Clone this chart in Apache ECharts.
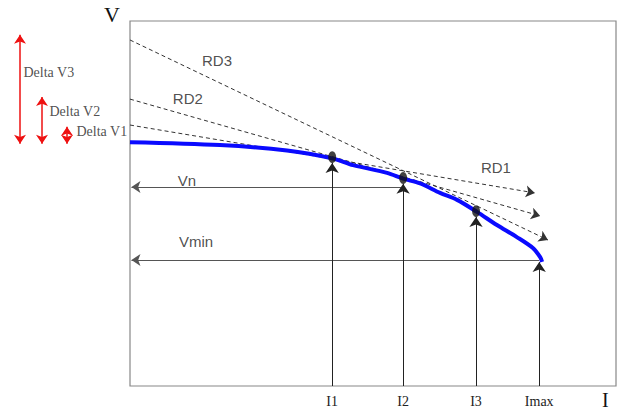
<!DOCTYPE html>
<html>
<head>
<meta charset="utf-8">
<script src="https://cdn.jsdelivr.net/npm/echarts@6/dist/echarts.min.js"></script>
<style>
  html, body { margin: 0; padding: 0; background: #fff; }
  #chart { width: 628px; height: 410px; }
</style>
</head>
<body>
<div id="chart"></div>
<script>
// V-I curve (arbitrary units, both axes 0..100)
const curveI = [0, 18.5, 32.3, 41.8, 45.9, 52.9, 56.2, 59.7, 63.8, 67.3, 71.4, 75.5, 79.6, 82.9, 84.4, 84.8];
const curveV = [66.8, 66.0, 64.5, 62.3, 60.5, 58.4, 56.8, 55.5, 52.9, 51.0, 47.7, 44.1, 40.8, 37.8, 35.3, 34.0];

// operating points on the curve
const tickNames = ['I1', 'I2', 'I3', 'Imax'];
const tickI = [41.6, 56.2, 71.2, 84.2];
const pointV = [62.7, 57.0, 47.9, 34.0];
const hasDot = [true, true, true, false];

// dashed load lines
const rdNames = ['RD1', 'RD2', 'RD3'];
const rdStartV = [71.5, 78.6, 94.8];
const rdEndI = [83.3, 84.4, 86.0];
const rdEndV = [52.9, 46.6, 40.0];
const rdLabelI = [75.3, 11.9, 17.9];
const rdLabelV = [60.0, 78.9, 89.3];

// voltage levels
const levelNames = ['Vn', 'Vmin'];
const levelV = [54.5, 34.5];
const levelEndI = [56.2, 84.2];
const levelLabelI = [11.7, 13.6];
const levelLabelV = [56.4, 39.7];

// delta V arrows on the left (x in left panel units 0..130)
const deltaNames = ['Delta V1', 'Delta V2', 'Delta V3'];
const deltaX = [67, 42, 20];
const deltaTop = [71.0, 79.2, 96.2];
const deltaBottom = [66.4, 66.4, 66.4];
const deltaLabelX = [76, 49, 23];
const deltaLabelV = [69.6, 75.1, 85.8];

const chart = echarts.init(document.getElementById('chart'), null, { renderer: 'svg' });

const sans = 'Liberation Sans, Arial, sans-serif';
const serif = 'Liberation Serif, Times New Roman, serif';

const option = {
    animation: false,
    grid: [
        { left: 130, top: 21, width: 486, height: 365, show: true, borderColor: '#888', borderWidth: 1.2, outerBoundsMode: 'none' },
        { left: 0, top: 21, width: 130, height: 365, show: false, outerBoundsMode: 'none' }
    ],
    xAxis: [
        {
            type: 'value', min: 0, max: 100,
            axisLine: { show: false }, axisTick: { show: false }, splitLine: { show: false },
            axisLabel: {
                customValues: tickI,
                formatter: (v) => tickNames[tickI.indexOf(v)],
                margin: 8, color: '#222', fontSize: 14, fontFamily: serif
            },
            name: 'I', nameLocation: 'end', nameGap: -14,
            nameTextStyle: { fontSize: 20, fontFamily: serif, color: '#111', verticalAlign: 'top', padding: [4, 0, 0, 0] }
        },
        { gridIndex: 1, type: 'value', min: 0, max: 130, show: false }
    ],
    yAxis: [
        {
            type: 'value', min: 0, max: 100,
            axisLine: { show: false }, axisTick: { show: false }, splitLine: { show: false },
            axisLabel: { show: false },
            name: 'V', nameLocation: 'end', nameGap: -4,
            nameTextStyle: { fontSize: 22, fontFamily: serif, color: '#111', align: 'right', padding: [0, 10, 0, 0] }
        },
        { gridIndex: 1, type: 'value', min: 0, max: 100, show: false }
    ],
    series: [
        {
            // dashed RD lines
            type: 'lines', coordinateSystem: 'cartesian2d',
            symbol: ['none', 'arrow'], symbolSize: 9,
            lineStyle: { color: '#333', width: 1, type: [4, 3], opacity: 1 },
            data: rdNames.map((n, i) => ({ coords: [[0, rdStartV[i]], [rdEndI[i], rdEndV[i]]] })),
            z: 2
        },
        {
            // Vn / Vmin horizontal arrows
            type: 'lines', coordinateSystem: 'cartesian2d',
            symbol: ['none', 'arrow'], symbolSize: 9,
            lineStyle: { color: '#555', width: 1, opacity: 1 },
            data: levelNames.map((n, i) => ({ coords: [[levelEndI[i], levelV[i]], [0.3, levelV[i]]] })),
            z: 2
        },
        {
            // vertical arrows up to the operating points
            type: 'lines', coordinateSystem: 'cartesian2d',
            symbol: ['none', 'arrow'], symbolSize: 10,
            lineStyle: { color: '#222', width: 1, opacity: 1 },
            data: tickNames.map((n, i) => ({ coords: [[tickI[i], 0], [tickI[i], hasDot[i] ? pointV[i] - 1.6 : pointV[i]]] })),
            z: 3
        },
        {
            type: 'line', name: 'curve',
            data: curveI.map((x, i) => [x, curveV[i]]),
            showSymbol: false, smooth: 0.3,
            lineStyle: { color: '#0a0aff', width: 4 },
            z: 4
        },
        {
            type: 'scatter', name: 'points',
            data: tickI.map((x, i) => [x, pointV[i]]).filter((p, i) => hasDot[i]),
            symbol: 'circle', symbolSize: [8, 12],
            itemStyle: { color: '#111' },
            z: 5
        },
        {
            // text labels in the plot
            type: 'scatter', symbolSize: 1, itemStyle: { color: 'rgba(0,0,0,0)' },
            label: { show: true, position: 'inside', formatter: (p) => p.name, color: '#222', fontSize: 15, fontFamily: sans },
            data: rdNames.map((n, i) => ({ name: n, value: [rdLabelI[i], rdLabelV[i]] }))
                .concat(levelNames.map((n, i) => ({ name: n, value: [levelLabelI[i], levelLabelV[i]] }))),
            z: 6
        },
        {
            // red delta V arrows
            type: 'lines', coordinateSystem: 'cartesian2d', xAxisIndex: 1, yAxisIndex: 1,
            symbol: ['arrow', 'arrow'], symbolSize: 9,
            lineStyle: { color: '#ee1111', width: 1.5, opacity: 1 },
            data: deltaNames.map((n, i) => ({ coords: [[deltaX[i], deltaBottom[i]], [deltaX[i], deltaTop[i]]] }))
        },
        {
            type: 'scatter', xAxisIndex: 1, yAxisIndex: 1, symbolSize: 1, itemStyle: { color: 'rgba(0,0,0,0)' },
            label: { show: true, position: 'right', distance: 0, formatter: (p) => p.name, color: '#222', fontSize: 14, fontFamily: serif },
            data: deltaNames.map((n, i) => ({ name: n, value: [deltaLabelX[i], deltaLabelV[i]] }))
        }
    ]
};

chart.setOption(option);
</script>
</body>
</html>
